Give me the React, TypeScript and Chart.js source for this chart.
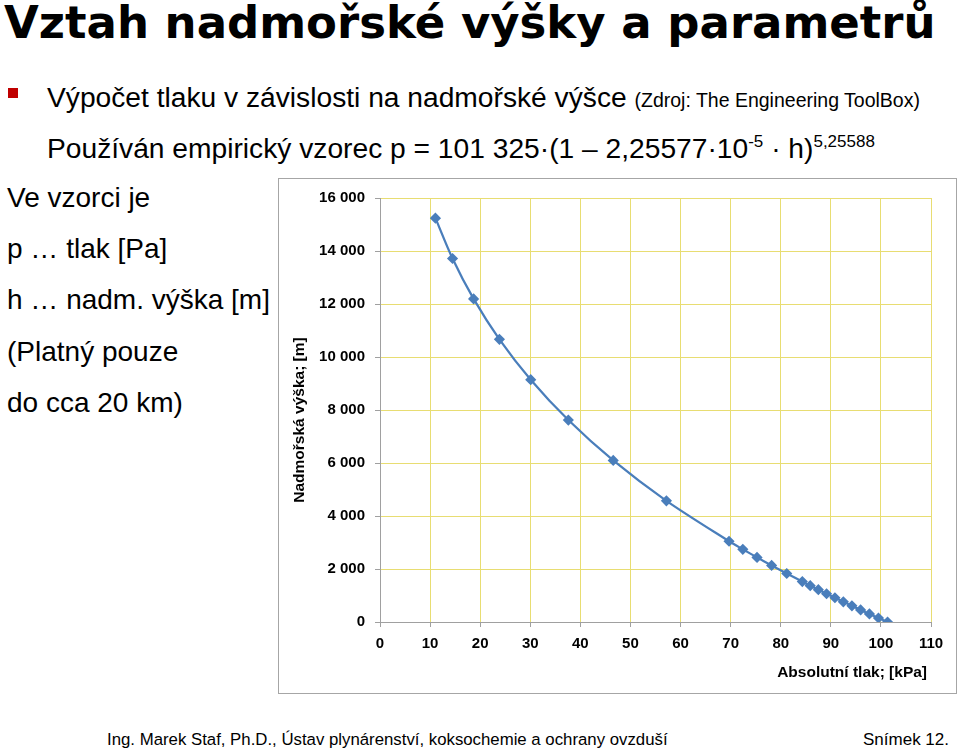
import React, { useEffect, useRef } from "react";
import { Chart, registerables } from "chart.js";

Chart.register(...registerables);

// Pressure [kPa] vs. altitude [m] (Engineering ToolBox table, formula values)
const altitudes: number[] = [
  15240, 13716, 12192, 10668, 9144, 7620, 6096, 4572, 3048, 2743, 2438, 2134,
  1829, 1524, 1372, 1219, 1067, 914, 762, 610, 457, 305, 152, 0,
];
const pressures: number[] = [
  11.07, 14.48, 18.69, 23.84, 30.09, 37.6, 46.56, 57.18, 69.68, 72.43, 75.27,
  78.18, 81.2, 84.31, 85.89, 87.51, 89.15, 90.82, 92.5, 94.21, 95.95, 97.71,
  99.51, 101.325,
];
const xTickValues: number[] = [0, 10, 20, 30, 40, 50, 60, 70, 80, 90, 100, 110];
const yTickValues: number[] = [0, 2000, 4000, 6000, 8000, 10000, 12000, 14000, 16000];
const xAxisTitle = "Absolutní tlak; [kPa]";
const yAxisTitle = "Nadmořská výška; [m]";

const fmt = (v: number) =>
  String(Math.round(v)).replace(/\B(?=(\d{3})+(?!\d))/g, " ");

const axisTitles = {
  id: "axisTitles",
  afterDraw(chart: any) {
    const { ctx, chartArea } = chart;
    ctx.save();
    ctx.fillStyle = "#000";
    ctx.font = "bold 15.5px 'Liberation Sans', Arial, sans-serif";
    ctx.textBaseline = "middle";
    // x-axis title, right aligned
    ctx.textAlign = "right";
    ctx.fillText(xAxisTitle, chartArea.right - 4, chartArea.bottom + 51);
    // y-axis title, rotated
    ctx.translate(21, (chartArea.top + chartArea.bottom) / 2 + 10);
    ctx.rotate(-Math.PI / 2);
    ctx.textAlign = "center";
    ctx.fillText(yAxisTitle, 0, 0);
    ctx.restore();
  },
};

function PressureChart() {
  const ref = useRef<HTMLCanvasElement | null>(null);
  useEffect(() => {
    if (!ref.current) return;
    const data = pressures.map((p, i) => ({ x: p, y: altitudes[i] }));
    const tickFont = { family: "'Liberation Sans', Arial, sans-serif", size: 15, weight: "bold" as const };
    const chart = new Chart(ref.current, {
      type: "scatter",
      data: {
        datasets: [
          {
            data,
            showLine: true,
            borderColor: "#4A7EBB",
            backgroundColor: "#4A7EBB",
            borderWidth: 2.25,
            tension: 0.3,
            pointStyle: "rectRot",
            pointRadius: 4,
            pointBackgroundColor: "#4A7EBB",
            pointBorderColor: "#4A7EBB",
          },
        ],
      },
      options: {
        animation: false,
        responsive: false,
        layout: { padding: { left: 0, top: 13, right: 25, bottom: 0 } },
        plugins: { legend: { display: false }, tooltip: { enabled: false } },
        scales: {
          x: {
            type: "linear",
            min: 0,
            max: 110,
            afterBuildTicks: (s: any) => {
              s.ticks = xTickValues.map((v) => ({ value: v }));
            },
            afterFit: (s: any) => {
              s.height = 71;
            },
            ticks: { color: "#000", font: tickFont, padding: 8, maxRotation: 0 },
            grid: { color: "#E8DD72", lineWidth: 1, tickColor: "#A0A0A0", tickLength: 5 },
            border: { color: "#A0A0A0", width: 1 },
          },
          y: {
            type: "linear",
            min: 0,
            max: 16000,
            afterBuildTicks: (s: any) => {
              s.ticks = yTickValues.map((v) => ({ value: v }));
            },
            afterFit: (s: any) => {
              s.width = 101;
            },
            ticks: { color: "#000", font: tickFont, padding: 10, callback: (v: any) => fmt(Number(v)) },
            grid: { color: "#E8DD72", lineWidth: 1, tickColor: "#A0A0A0", tickLength: 5 },
            border: { color: "#A0A0A0", width: 1 },
          },
        },
      },
      plugins: [axisTitles],
    });
    return () => chart.destroy();
  }, []);
  return <canvas ref={ref} width={677} height={514} style={{ display: "block" }} />;
}

export default function App() {
  const sans = "'Liberation Sans', Arial, Helvetica, sans-serif";
  const abs = (left: number, top: number, size: number, extra: React.CSSProperties = {}): React.CSSProperties => ({
    position: "absolute",
    left,
    top,
    fontSize: size,
    lineHeight: `${size}px`,
    whiteSpace: "nowrap",
    ...extra,
  });
  const leftLines = ["Ve vzorci je", "p … tlak [Pa]", "h … nadm. výška [m]", "(Platný pouze", "do cca 20 km)"];
  return (
    <div
      style={{
        position: "absolute",
        left: 0,
        top: 0,
        width: 960,
        height: 751,
        background: "#fff",
        overflow: "hidden",
        fontFamily: sans,
        color: "#000",
      }}
    >
      <div style={abs(4, 0, 45, { fontFamily: "'DejaVu Sans', sans-serif", fontWeight: "bold" })}>
        Vztah nadmořské výšky a parametrů
      </div>
      <div style={{ position: "absolute", left: 8, top: 88, width: 10, height: 10, background: "#C00000" }} />
      <div style={abs(47, 83, 28.2)}>
        Výpočet tlaku v závislosti na nadmořské výšce <span style={{ fontSize: 19.5 }}>(Zdroj: The Engineering ToolBox)</span>
      </div>
      <div style={abs(47, 134, 28.2)}>
        Používán empirický vzorec p = 101 325·(1 – 2,25577·10
        <span style={{ fontSize: 17, position: "relative", top: -11 }}>-5</span> · h)
        <span style={{ fontSize: 17, position: "relative", top: -11 }}>5,25588</span>
      </div>
      {leftLines.map((t, i) => (
        <div key={i} style={abs(7, 184 + i * 51.2, 28)}>
          {t}
        </div>
      ))}
      <div
        style={{
          position: "absolute",
          left: 278,
          top: 178,
          width: 679,
          height: 516,
          border: "1px solid #A6A6A6",
          boxSizing: "border-box",
        }}
      >
        <PressureChart />
      </div>
      <div style={abs(107, 732, 16.8)}>Ing. Marek Staf, Ph.D., Ústav plynárenství, koksochemie a ochrany ovzduší</div>
      <div style={abs(863, 731, 17)}>Snímek 12.</div>
    </div>
  );
}
